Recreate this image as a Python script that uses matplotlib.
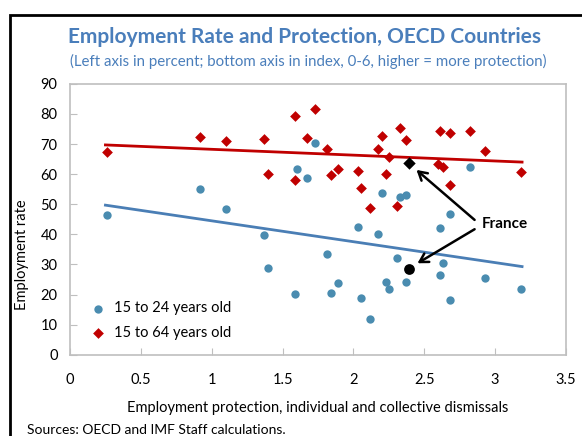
import matplotlib.pyplot as plt
from matplotlib.patches import Rectangle

plt.rcParams['font.family'] = ['Lato', 'DejaVu Sans']

# 15 to 24 years old
young_x = [0.26, 0.92, 1.10, 1.60, 1.67, 1.73, 1.37, 1.40, 1.59, 2.20, 2.33, 2.37,
           2.82, 2.68, 2.03, 2.61, 2.17, 1.81, 1.89, 1.84, 2.05, 2.12, 2.23, 2.25,
           2.31, 2.37, 2.63, 2.61, 2.68, 2.93, 3.18]
young_y = [46.5, 55.1, 48.5, 61.8, 58.7, 70.5, 39.7, 28.8, 20.2, 53.7, 52.4, 53.1,
           62.3, 46.8, 42.6, 42.0, 40.2, 33.5, 23.9, 20.5, 18.8, 12.0, 24.3, 22.0,
           32.3, 24.3, 30.5, 26.6, 18.1, 25.6, 21.9]

# 15 to 64 years old
all_x = [0.26, 0.92, 1.10, 1.37, 1.59, 1.67, 1.40, 1.59, 1.73, 1.81, 1.89, 1.84,
         2.03, 2.05, 2.12, 2.20, 2.17, 2.33, 2.37, 2.25, 2.23, 2.31, 2.61, 2.68,
         2.82, 2.93, 2.60, 2.63, 2.68, 3.18]
all_y = [67.3, 72.4, 71.0, 71.6, 79.4, 71.9, 60.2, 58.1, 81.7, 68.4, 61.8, 59.8,
         61.1, 55.5, 48.9, 72.5, 68.4, 75.4, 71.4, 65.7, 60.0, 49.5, 74.4, 73.5,
         74.3, 67.7, 63.4, 62.3, 56.3, 60.6]

# France
france_x = 2.39
france_young = 28.4
france_all = 63.8

# linear trend lines (end points)
trend_x = [0.25, 3.19]
trend_young = [49.7, 29.3]
trend_all = [69.7, 64.0]

blue = '#4A8CB0'
red = '#C00000'
title_blue = '#4A7EBB'
grey = '#BFBFBF'

fig = plt.figure(figsize=(5.82, 4.36), dpi=100)
ax = fig.add_axes([70 / 582, 1 - 354.8 / 436, 496 / 582, 271 / 436])

ax.plot(trend_x, trend_young, color='#4A7EB5', lw=2, zorder=2)
ax.plot(trend_x, trend_all, color=red, lw=2, zorder=2)

ax.scatter(young_x, young_y, s=36, color=blue, marker='o', lw=0, zorder=3,
           label='15 to 24 years old')
ax.scatter(all_x, all_y, s=30, color=red, marker='D', lw=0, zorder=3,
           label='15 to 64 years old')
ax.scatter([france_x], [france_young], s=60, color='black', marker='o', lw=0, zorder=4)
ax.scatter([france_x], [france_all], s=40, color='black', marker='D', lw=0, zorder=4)

ax.text(2.905, 43.3, 'France', fontsize=11, fontweight='bold', ha='left', va='center')
arrow = dict(arrowstyle='->,head_length=0.6,head_width=0.35', color='black', lw=1.8,
             shrinkA=0, shrinkB=0)
ax.annotate('', xy=(2.445, 61.4), xytext=(2.855, 44.8), arrowprops=arrow)
ax.annotate('', xy=(2.452, 30.4), xytext=(2.855, 41.7), arrowprops=arrow)

ax.set_xlim(0, 3.5)
ax.set_ylim(0, 90)
ax.set_xticks([0, 0.5, 1, 1.5, 2, 2.5, 3, 3.5])
ax.set_xticklabels(['0', '0.5', '1', '1.5', '2', '2.5', '3', '3.5'])
ax.set_yticks(range(0, 91, 10))
ax.tick_params(direction='in', length=5, color=grey, labelsize=10.5)
ax.tick_params(axis='x', pad=13)
ax.tick_params(axis='y', pad=9)
for s in ax.spines.values():
    s.set_color(grey)
    s.set_linewidth(1.2)

ax.set_xlabel('Employment protection, individual and collective dismissals',
              fontsize=10.5, labelpad=10)
fig.text(22 / 582, 1 - 255 / 436, 'Employment rate', rotation=90, fontsize=10.5,
         ha='center', va='center')

ax.legend(loc='lower left', bbox_to_anchor=(0.0, 0.005), frameon=False, fontsize=10.5,
          handletextpad=0.1, labelspacing=0.75, markerscale=1.0)

fig.text(305 / 582, 1 - 37 / 436, 'Employment Rate and Protection, OECD Countries',
         fontsize=15, fontweight='bold', color=title_blue, ha='center', va='center')
fig.text(308 / 582, 1 - 61 / 436,
         '(Left axis in percent; bottom axis in index, 0-6, higher = more protection)',
         fontsize=10.8, color=title_blue, ha='center', va='center')
fig.text(27 / 582, 1 - 430 / 436, 'Sources: OECD and IMF Staff calculations.',
         fontsize=10, ha='left', va='center')

# outer black frame, running off the right and bottom edges
fig.patches.append(Rectangle((10 / 582, -0.1), 1.2, 1 - 15 / 436 + 0.1,
                             transform=fig.transFigure, fill=False,
                             edgecolor='black', lw=2))

fig.savefig('out.png', dpi=100)
